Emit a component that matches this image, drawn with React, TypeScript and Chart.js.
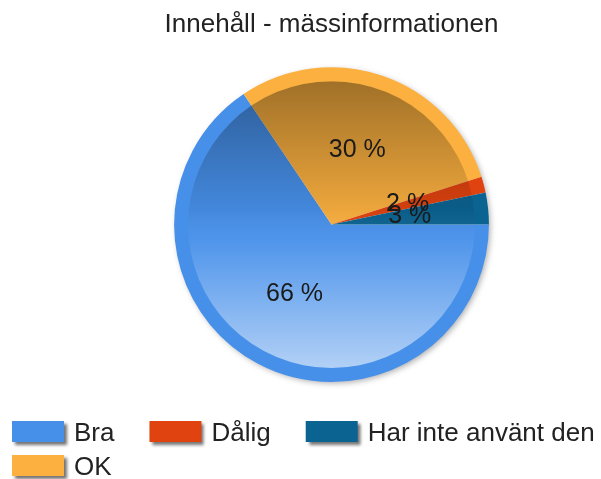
import React, { useEffect, useRef } from "react";
import { Chart, registerables } from "chart.js";

Chart.register(...registerables);

const TITLE = "Innehåll - mässinformationen";
const categories = ["Bra", "OK", "Dålig", "Har inte använt den"];
const counts = [40, 18, 1, 2];
const colors = ["#4790ea", "#fbb03f", "#e0430f", "#0b6391"];

const FONT = '"Liberation Sans", Arial, sans-serif';

const pieDecor = {
  id: "pieDecor",
  beforeDatasetsDraw(chart: any) {
    const meta = chart.getDatasetMeta(0);
    const arc = meta.data[0];
    if (!arc) return;
    const { x, y, outerRadius } = arc.getProps(["x", "y", "outerRadius"], true);
    const ctx = chart.ctx;
    ctx.save();
    ctx.shadowColor = "rgba(0,0,0,0.35)";
    ctx.shadowBlur = 6;
    ctx.shadowOffsetX = 2;
    ctx.shadowOffsetY = 2;
    ctx.fillStyle = "#ffffff";
    ctx.beginPath();
    ctx.arc(x, y, outerRadius - 1, 0, Math.PI * 2);
    ctx.fill();
    ctx.restore();
  },
  afterDatasetsDraw(chart: any) {
    const meta = chart.getDatasetMeta(0);
    const arc = meta.data[0];
    if (!arc) return;
    const { x, y, outerRadius } = arc.getProps(["x", "y", "outerRadius"], true);
    const ctx = chart.ctx;
    const inner = outerRadius - 14;
    ctx.save();
    ctx.beginPath();
    ctx.arc(x, y, inner, 0, Math.PI * 2);
    ctx.clip();
    const g = ctx.createLinearGradient(0, y - inner, 0, y + inner);
    g.addColorStop(0, "rgba(0,0,0,0.36)");
    g.addColorStop(0.45, "rgba(0,0,0,0.06)");
    g.addColorStop(0.55, "rgba(255,255,255,0.04)");
    g.addColorStop(1, "rgba(255,255,255,0.58)");
    ctx.fillStyle = g;
    ctx.fillRect(x - inner, y - inner, inner * 2, inner * 2);
    ctx.restore();

    // percentage labels
    const total = counts.reduce((a, b) => a + b, 0);
    ctx.save();
    ctx.font = `25px ${FONT}`;
    ctx.fillStyle = "#1a1a1a";
    ctx.textAlign = "center";
    ctx.textBaseline = "middle";
    meta.data.forEach((el: any, i: number) => {
      const p = el.tooltipPosition();
      const pct = Math.round((counts[i] / total) * 100);
      ctx.fillText(`${pct} %`, p.x, p.y);
    });
    ctx.restore();
  },
};

const customLegend = {
  id: "customLegend",
  afterDraw(chart: any) {
    const ctx = chart.ctx;
    const order = categories
      .map((c, i) => i)
      .sort((a, b) => categories[a].localeCompare(categories[b], "sv"));
    const boxW = 52;
    const boxH = 21;
    const textGap = 10;
    const itemGap = 35;
    const rowH = 34;
    const startX = 12;
    let x = startX;
    let top = chart.height - 58;
    ctx.save();
    ctx.font = `26px ${FONT}`;
    order.forEach((i) => {
      const label = categories[i];
      const tw = ctx.measureText(label).width;
      const w = boxW + textGap + tw;
      if (x !== startX && x + w > chart.width) {
        x = startX;
        top += rowH;
      }
      ctx.save();
      ctx.shadowColor = "rgba(0,0,0,0.55)";
      ctx.shadowBlur = 3;
      ctx.shadowOffsetX = 3;
      ctx.shadowOffsetY = 3;
      ctx.fillStyle = colors[i];
      ctx.fillRect(x, top, boxW, boxH);
      ctx.restore();
      ctx.fillStyle = "#222222";
      ctx.textAlign = "left";
      ctx.textBaseline = "alphabetic";
      ctx.fillText(label, x + boxW + textGap, top + 20);
      x += w + itemGap;
    });
    ctx.restore();
  },
};

export default function App() {
  const ref = useRef<HTMLCanvasElement | null>(null);
  useEffect(() => {
    if (!ref.current) return;
    const chart = new Chart(ref.current, {
      type: "pie",
      data: {
        labels: categories,
        datasets: [
          {
            data: counts,
            backgroundColor: colors,
            borderWidth: 0,
            hoverOffset: 0,
          },
        ],
      },
      options: {
        animation: false,
        responsive: false,
        maintainAspectRatio: false,
        rotation: 90,
        layout: { padding: { left: 62, right: 0, top: 0, bottom: 97 } },
        plugins: {
          legend: { display: false },
          tooltip: { enabled: false },
          title: {
            display: true,
            text: TITLE,
            color: "#222222",
            font: { family: FONT, size: 26, weight: "normal" },
            padding: { top: 9, bottom: 27 },
          },
        },
      },
      plugins: [pieDecor, customLegend],
    });
    return () => chart.destroy();
  }, []);
  return (
    <div style={{ position: "fixed", left: 0, top: 0, width: 601, height: 479, background: "#fff" }}>
      <canvas ref={ref} width={601} height={479} style={{ width: 601, height: 479 }} />
    </div>
  );
}
